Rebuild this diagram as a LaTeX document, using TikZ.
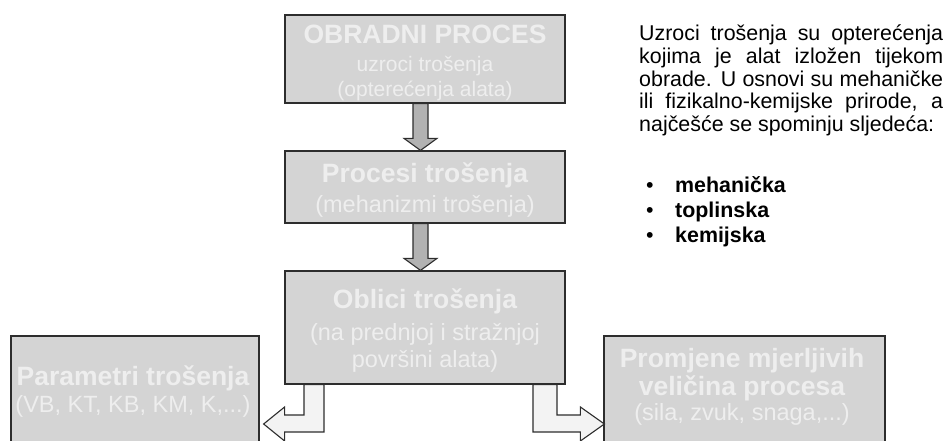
\documentclass[tikz,border=0pt]{standalone}
\usepackage{fontspec}
\setmainfont{Liberation Sans}
\usetikzlibrary{calc}
\definecolor{boxfill}{RGB}{212,212,212}
\definecolor{boxtext}{RGB}{238,238,238}
\definecolor{edgecol}{RGB}{45,45,45}
\definecolor{darkarrow}{RGB}{178,178,178}
\definecolor{lightarrow}{RGB}{243,243,243}
\begin{document}
\begin{tikzpicture}[x=1pt,y=-1pt,
  box/.style={draw=edgecol, line width=1.2pt, fill=boxfill, inner sep=0pt},
  ttl/.style={text=boxtext, font=\fontsize{26.5}{30}\selectfont\bfseries, anchor=base, inner sep=0pt},
  subl/.style={text=boxtext, font=\fontsize{23.5}{27}\selectfont, anchor=base, inner sep=0pt},
  subs/.style={text=boxtext, font=\fontsize{21}{24}\selectfont, anchor=base, inner sep=0pt},
  para/.style={text=black, font=\fontsize{21.4}{24}\selectfont, anchor=base west, inner sep=0pt},
  bul/.style={text=black, font=\fontsize{21.4}{24}\selectfont, anchor=base west, inner sep=0pt},
  darr/.style={draw=edgecol, line width=1.1pt, fill=darkarrow, line join=miter},
  larr/.style={draw=edgecol, line width=1.1pt, fill=lightarrow, line join=miter}]
\useasboundingbox (0,0) rectangle (946,441);
\clip (0,0) rectangle (946,441);

% boxes (positions)
\path (425,59) node[box, minimum width=280pt, minimum height=88pt] (obr) {};
\path (425,187) node[box, minimum width=280pt, minimum height=72pt] (pro) {};
\path (425,327.5) node[box, minimum width=280pt, minimum height=113pt] (obl) {};
\path (135,403) node[box, minimum width=248pt, minimum height=134pt] (par) {};
\path (744.5,403) node[box, minimum width=281pt, minimum height=134pt] (pmv) {};

% down arrows
\draw[darr] ($(obr.south)+(-12,0)$) -- ($(pro.north)+(-12,-12)$) -- ($(pro.north)+(-21,-12)$) -- ($(pro.north)+(-4.5,0)$) -- ($(pro.north)+(12,-12)$) -- ($(pro.north)+(3,-12)$) -- ($(obr.south)+(3,0)$) -- cycle;
\draw[darr] ($(pro.south)+(-12,0)$) -- ($(obl.north)+(-12,-12)$) -- ($(obl.north)+(-21,-12)$) -- ($(obl.north)+(-4.5,0)$) -- ($(obl.north)+(12,-12)$) -- ($(obl.north)+(3,-12)$) -- ($(pro.south)+(3,0)$) -- cycle;

% elbow arrows
\coordinate (lt) at ($(par.east)+(4,21)$);
\coordinate (rt) at ($(pmv.west)+(1,21)$);
\draw[larr] ($(obl.south)+(-121,0)$) |- ($(lt)+(21,-9)$) -- ($(lt)+(21,-17)$) -- (lt) -- ($(lt)+(21,17)$) -- ($(lt)+(21,8)$) -| ($(obl.south)+(-101,0)$) -- cycle;
\draw[larr] ($(obl.south)+(132,0)$) |- ($(rt)+(-24,-9)$) -- ($(rt)+(-24,-17)$) -- (rt) -- ($(rt)+(-24,17)$) -- ($(rt)+(-24,8)$) -| ($(obl.south)+(108,0)$) -- cycle;

% box texts
\node[ttl] (t1a) at (425,44) {OBRADNI PROCES};
\node[subs] (t1b) at (425,72) {uzroci trošenja};
\node[subs] (t1c) at (425,97) {(opterećenja alata)};
\node[ttl] (t2a) at (425,183) {Procesi trošenja};
\node[subl] (t2b) at (425,212) {(mehanizmi trošenja)};
\node[ttl] (t3a) at (425,308) {Oblici trošenja};
\node[subl] (t3b) at (425,340) {(na prednjoj i stražnjoj};
\node[subl] (t3c) at (425,367) {površini alata)};
\node[ttl] (t4a) at (133,385) {Parametri trošenja};
\node[subl] (t4b) at (133,412) {(VB, KT, KB, KM, K,...)};
\node[ttl] (t5a) at (742,367) {Promjene mjerljivih};
\node[ttl] (t5b) at (742,395) {veličina procesa};
\node[subl] (t5c) at (742,420) {(sila, zvuk, snaga,...)};

% right paragraph
\node[para] (p1) at (639,40.7) {\makebox[304pt][s]{Uzroci trošenja su opterećenja}};
\node[para] (p2) at (639,63.5) {\makebox[304pt][s]{kojima je alat izložen tijekom}};
\node[para] (p3) at (639,86.2) {\makebox[304pt][s]{obrade. U osnovi su mehaničke}};
\node[para] (p4) at (639,109) {\makebox[304pt][s]{ili fizikalno-kemijske prirode, a}};
\node[para] (p5) at (639,131.7) {najčešće se spominju sljedeća:};

\node[bul] (b1) at (646,193) {•};
\node[bul] (b2) at (646,218) {•};
\node[bul] (b3) at (646,242) {•};
\node[bul, font=\fontsize{21.4}{24}\selectfont\bfseries] (w1) at (675,193) {mehanička};
\node[bul, font=\fontsize{21.4}{24}\selectfont\bfseries] (w2) at (675,218) {toplinska};
\node[bul, font=\fontsize{21.4}{24}\selectfont\bfseries] (w3) at (675,242) {kemijska};
\end{tikzpicture}
\end{document}
